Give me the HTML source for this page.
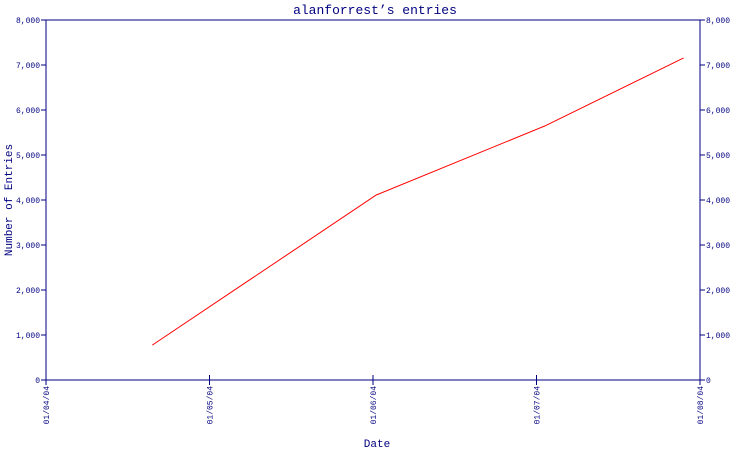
<!DOCTYPE html>
<html><head><meta charset="utf-8"><style>
body{margin:0;background:#fff;width:750px;height:450px;overflow:hidden}
svg text{font-family:"Liberation Mono",monospace;fill:#000080}
</style></head><body>
<svg id="c" width="750" height="450">
<text x="375" y="14" text-anchor="middle" font-size="13">alanforrest’s entries</text>
<text x="377" y="447" text-anchor="middle" font-size="11">Date</text>
<text transform="translate(12,200) rotate(-90)" text-anchor="middle" font-size="11">Number of Entries</text>
<g id="g"></g>
</svg>
<script>
const xTicks=["01/04/04","01/05/04","01/06/04","01/07/04","01/08/04"];
const yTicks=[0,1000,2000,3000,4000,5000,6000,7000,8000];
const xVals=[0.65,2.02,3.05,3.9];
const yVals=[775,4111,5644,7156];
const L=46,R=700,T=20,B=380;
const sx=v=>L+v*(R-L)/(xTicks.length-1);
const sy=v=>B-v*(B-T)/8000;
const NS="http://www.w3.org/2000/svg",g=document.getElementById('g');
function mk(t,a){const e=document.createElementNS(NS,t);for(const k in a)e.setAttribute(k,a[k]);g.appendChild(e);return e;}
let e=mk('rect',{x:L,y:T,width:R-L,height:B-T,fill:'none',stroke:'#000080','stroke-width':1});


const fmt=v=>v.toLocaleString('en-US');
yTicks.forEach(v=>{
 e=mk('line',{x1:L-5,x2:L,y1:sy(v),y2:sy(v),stroke:'#000080'});
 
 
 e=mk('line',{x1:R,x2:R+5,y1:sy(v),y2:sy(v),stroke:'#000080'});
 
 
 e=mk('text',{x:L-6,y:sy(v)+3,'text-anchor':'end','font-size':8});e.textContent=fmt(v);
 
 
 e=mk('text',{x:R+6,y:sy(v)+3,'font-size':8});e.textContent=fmt(v);
 
 
});
xTicks.forEach((t,i)=>{
 const x=sx(i);
 e=mk('line',{x1:x,x2:x,y1:B-5,y2:B+5,stroke:'#000080'});
 
 
 e=mk('text',{transform:`translate(${x+3},${B+6}) rotate(-90)`,'text-anchor':'end','font-size':8});e.textContent=t;
 
 
});
e=mk('polyline',{points:xVals.map((v,i)=>sx(v)+','+sy(yVals[i])).join(' '),fill:'none',stroke:'#ff0000','stroke-width':1});


</script>
</body></html>
